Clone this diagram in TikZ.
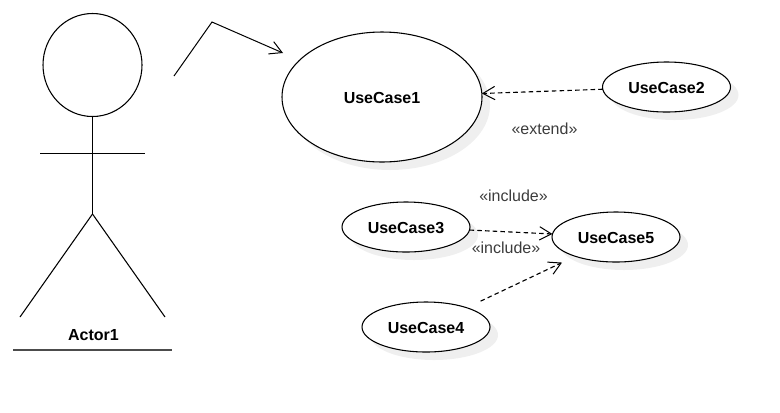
\documentclass[tikz,border=0pt]{standalone}
\usepackage{fontspec}
\setmainfont{Liberation Sans}
\usetikzlibrary{shapes.geometric,arrows.meta,shadows}
\definecolor{uc_shadow}{RGB}{150, 150, 150}
\definecolor{label_grey}{RGB}{60, 60, 60}
\tikzstyle{uc}=[ellipse,fill=white,draw=black,line width=0.8 pt,inner sep=0pt,outer sep=0pt,
  minimum width=96pt,minimum height=37.5pt,text height=10pt,text depth=0pt,
  font=\fontsize{12}{14}\selectfont\bfseries,
  general shadow={shadow xshift=6pt,shadow yshift=-6pt,fill=uc_shadow,opacity=0.15}]
\tikzstyle{bigu}=[style=uc,minimum width=150pt,minimum height=97.5pt]
\tikzstyle{actorhead}=[ellipse,draw=black,line width=0.8 pt,inner sep=0pt,outer sep=0pt,
  minimum width=74.25pt,minimum height=77.25pt]
\tikzstyle{stereo}=[inner sep=0pt,text=label_grey,font=\fontsize{12}{14}\selectfont]
\tikzstyle{actorname}=[inner sep=0pt,font=\fontsize{12}{14}\selectfont\bfseries]
\tikzstyle{dep}=[line width=0.85pt,dash pattern=on 3.4pt off 2.4pt,
  -{Straight Barb[length=9pt,width=10pt,line width=0.75pt]}]
\tikzstyle{assoc}=[line width=0.75pt,-{Straight Barb[length=9pt,width=10pt,line width=0.75pt]}]

\begin{document}
\begin{tikzpicture}[x=0.75pt, y=-0.75pt]
    \useasboundingbox (0, 0) rectangle (780, 412);
    \node [style=actorhead] (head) at (92.5, 65) {};
    \coordinate (hip) at (92.5, 214);
    \coordinate (handl) at (40, 153.5);
    \coordinate (handr) at (145, 153.5);
    \coordinate (footl) at (20, 317);
    \coordinate (footr) at (165, 317);
    \coordinate (linel) at (13, 350);
    \coordinate (liner) at (172, 350);
    \node [style=actorname] (actor) at (93.5, 335) {Actor1};
    \coordinate (0) at (174, 76);
    \coordinate (1) at (212, 22);
    \coordinate (2) at (283, 53);
    \node [style=bigu] (uc1) at (382, 97) {UseCase1};
    \node [style=uc] (uc2) at (666.5, 87) {UseCase2};
    \node [style=uc] (uc3) at (406, 227) {UseCase3};
    \node [style=uc] (uc4) at (426, 327) {UseCase4};
    \node [style=uc] (uc5) at (616, 237) {UseCase5};
    \node [style=stereo] (ext) at (544.5, 128.5) {«extend»};
    \node [style=stereo] (inc1) at (513.5, 195.5) {«include»};
    \node [style=stereo] (inc2) at (506, 247.5) {«include»};
    \draw [line width=0.8 pt] (head.south) to (hip);
    \draw [line width=0.8 pt] (handl) to (handr);
    \draw [line width=0.8 pt] (footl) to (hip);
    \draw [line width=0.8 pt] (hip) to (footr);
    \draw [line width=1.1 pt, black!70] (linel) to (liner);
    \draw [style=assoc] (0) to (1) to (2);
    \draw [style=dep] (uc2) to (uc1);
    \draw [style=dep] (uc3) to (uc5);
    \draw [style=dep, shorten <=11.5pt, shorten >=11pt] (uc4) to (uc5);
\end{tikzpicture}
\end{document}
